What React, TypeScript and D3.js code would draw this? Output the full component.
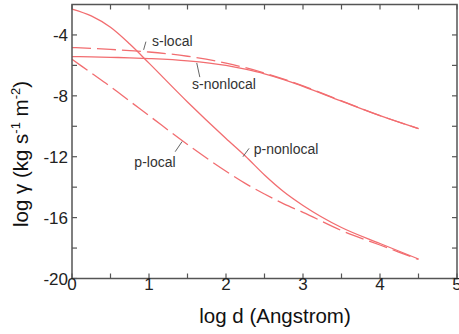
import { useRef, useEffect } from "react";
import * as d3 from "d3";

// log d (Angstrom)
const LOG_D = [0, 0.25, 0.5, 0.75, 1, 1.5, 2, 2.25, 2.5, 2.75, 3, 3.5, 4, 4.5];

// log gamma values
const S_LOCAL = [-4.83, -4.88, -4.95, -5.03, -5.12, -5.4, -5.85, -6.15, -6.5, -6.9, -7.35, -8.33, -9.3, -10.15];
const S_NONLOCAL = [-5.42, -5.44, -5.47, -5.5, -5.55, -5.7, -6.0, -6.25, -6.55, -6.93, -7.38, -8.35, -9.3, -10.15];
const P_LOCAL = [-5.6, -6.5, -7.4, -8.35, -9.3, -11.2, -12.95, -13.75, -14.45, -15.1, -15.65, -16.85, -17.8, -18.75];
const P_NONLOCAL = [-2.3, -2.75, -3.5, -4.6, -5.85, -8.4, -10.8, -11.95, -13.2, -14.3, -15.2, -16.65, -17.7, -18.72];

const X_TICKS = [0, 1, 2, 3, 4, 5];
const Y_TICKS = [-20, -16, -12, -8, -4];

const SERIES = [
  { name: "s-local", values: S_LOCAL, dashed: true },
  { name: "s-nonlocal", values: S_NONLOCAL, dashed: false },
  { name: "p-local", values: P_LOCAL, dashed: true },
  { name: "p-nonlocal", values: P_NONLOCAL, dashed: false },
];

// label text position and leader line (in data units)
const LABELS = [
  { text: "s-local", x: 1.04, y: -4.72, lx1: 0.93, ly1: -4.98, lx2: 0.96, ly2: -4.44 },
  { text: "s-nonlocal", x: 1.56, y: -7.55, lx1: 1.62, ly1: -5.84, lx2: 1.66, ly2: -6.77 },
  { text: "p-local", x: 0.81, y: -12.65, lx1: 1.43, ly1: -11.0, lx2: 1.34, ly2: -11.67 },
  { text: "p-nonlocal", x: 2.36, y: -11.82, lx1: 2.22, ly1: -12.0, lx2: 2.3, ly2: -11.45 },
];

const RED = "#f26d70";
const AXIS = "#555";
const FONT = "Liberation Sans, Arial, Helvetica, sans-serif";

export default function App() {
  const svgRef = useRef<SVGSVGElement>(null);

  useEffect(() => {
    if (!svgRef.current) return;
    const svg = d3.select(svgRef.current);
    svg.selectAll("*").remove();

    const left = 72;
    const right = 457;
    const top = 4.5;
    const bottom = 278.5;

    const x = d3.scaleLinear().domain([0, 5]).range([left, right]);
    const y = d3.scaleLinear().domain([-20, -2]).range([bottom, top]);

    // curves
    const line = d3
      .line<[number, number]>()
      .x((d) => x(d[0]))
      .y((d) => y(d[1]))
      .curve(d3.curveMonotoneX);

    SERIES.forEach((s) => {
      svg
        .append("path")
        .attr("d", line(LOG_D.map((d, i) => [d, s.values[i]] as [number, number])))
        .attr("fill", "none")
        .attr("stroke", RED)
        .attr("stroke-width", 1.3)
        .attr("stroke-dasharray", s.dashed ? "19,6" : null);
    });

    // frame
    svg
      .append("rect")
      .attr("x", left)
      .attr("y", top)
      .attr("width", right - left)
      .attr("height", bottom - top)
      .attr("fill", "none")
      .attr("stroke", AXIS)
      .attr("stroke-width", 1.5);

    // minor + major ticks, inward on all four sides
    const tl = 5;
    const xt = d3.range(0, 5.01, 0.5);
    const yt = d3.range(-20, -2.01, 2);
    const ticks = svg.append("g").attr("stroke", AXIS).attr("stroke-width", 1.2);
    xt.forEach((t) => {
      ticks.append("line").attr("x1", x(t)).attr("x2", x(t)).attr("y1", bottom).attr("y2", bottom - tl);
      ticks.append("line").attr("x1", x(t)).attr("x2", x(t)).attr("y1", top).attr("y2", top + tl);
    });
    yt.forEach((t) => {
      ticks.append("line").attr("x1", left).attr("x2", left + tl).attr("y1", y(t)).attr("y2", y(t));
      ticks.append("line").attr("x1", right).attr("x2", right - tl).attr("y1", y(t)).attr("y2", y(t));
    });

    // tick labels
    svg
      .append("g")
      .selectAll("text")
      .data(X_TICKS)
      .join("text")
      .attr("x", (d) => x(d))
      .attr("y", 290)
      .attr("text-anchor", "middle")
      .attr("fill", "#222")
      .style("font-family", FONT)
      .style("font-size", "17px")
      .text((d) => d);

    svg
      .append("g")
      .selectAll("text")
      .data(Y_TICKS)
      .join("text")
      .attr("x", left - 4)
      .attr("y", (d) => y(d) + 6)
      .attr("text-anchor", "end")
      .attr("fill", "#222")
      .style("font-family", FONT)
      .style("font-size", "17px")
      .text((d) => d);

    // curve labels
    LABELS.forEach((l) => {
      svg
        .append("line")
        .attr("x1", x(l.lx1))
        .attr("y1", y(l.ly1))
        .attr("x2", x(l.lx2))
        .attr("y2", y(l.ly2))
        .attr("stroke", "#666")
        .attr("stroke-width", 1);
      svg
        .append("text")
        .attr("x", x(l.x))
        .attr("y", y(l.y))
        .attr("fill", "#333")
        .style("font-family", FONT)
        .style("font-size", "14px")
        .text(l.text);
    });

    // axis titles
    svg
      .append("text")
      .attr("x", 275)
      .attr("y", 323)
      .attr("text-anchor", "middle")
      .attr("fill", "#111")
      .style("font-family", FONT)
      .style("font-size", "20.5px")
      .text("log d (Angstrom)");

    const yt2 = svg
      .append("text")
      .attr("transform", "translate(28,154) rotate(-90)")
      .attr("text-anchor", "middle")
      .attr("fill", "#111")
      .style("font-family", FONT)
      .style("font-size", "20.5px");
    yt2.append("tspan").text("log \u03b3 (kg s");
    yt2.append("tspan").attr("dy", -8).style("font-size", "13px").text("-1");
    yt2.append("tspan").attr("dy", 8).text(" m");
    yt2.append("tspan").attr("dy", -8).style("font-size", "13px").text("-2");
    yt2.append("tspan").attr("dy", 8).text(")");
  }, []);

  return (
    <svg
      ref={svgRef}
      width={459}
      height={334}
      style={{ position: "absolute", left: 0, top: 0, background: "#fff" }}
    />
  );
}
